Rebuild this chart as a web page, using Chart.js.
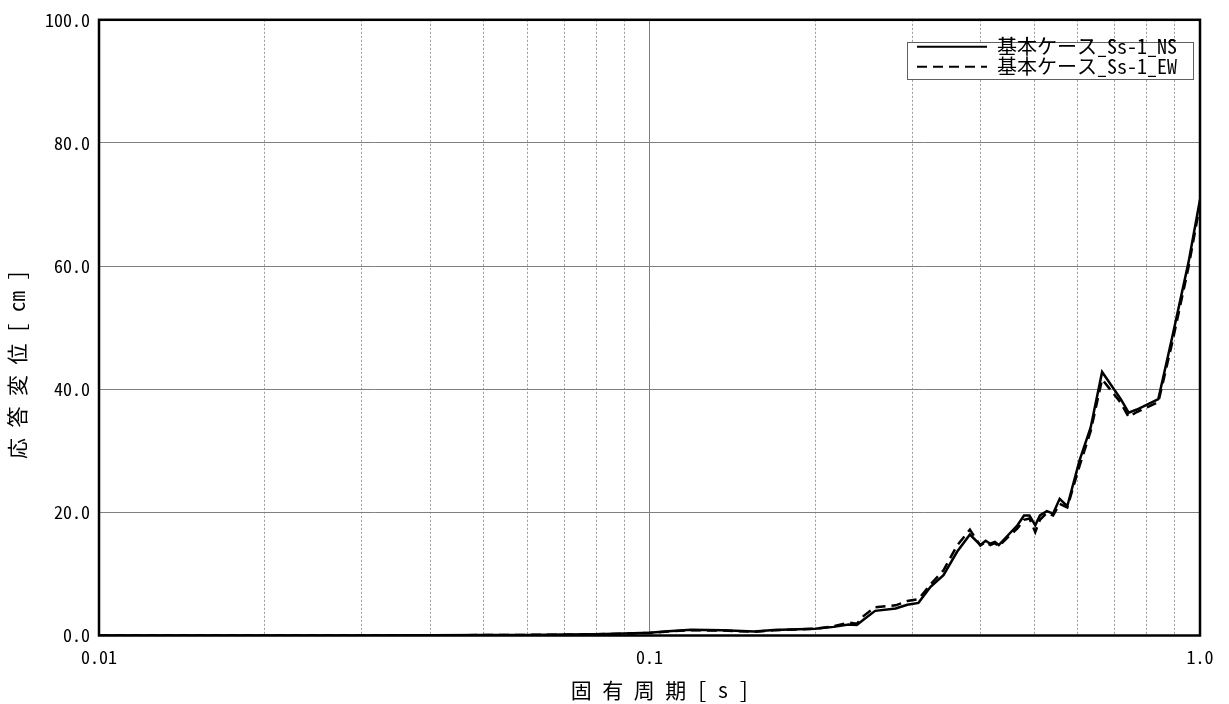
<!DOCTYPE html>
<html><head><meta charset="utf-8">
<script src="https://cdn.jsdelivr.net/npm/chart.js@4/dist/chart.umd.min.js"></script>
<style>html,body{margin:0;padding:0;background:#fff;overflow:hidden}</style>
</head><body>
<canvas id="c" width="1229" height="704"></canvas>
<script>
// ---- data ----
const periods = [0.01,0.02,0.03,0.04,0.05,0.06,0.07,0.08,0.09,0.10,
  0.108,0.119,0.136,0.155,0.168,0.20,0.216,0.230,0.238,0.245,
  0.257,0.280,0.294,0.308,0.324,0.342,0.362,0.382,0.399,0.408,
  0.416,0.424,0.431,0.447,0.466,0.479,0.490,0.502,0.512,0.527,
  0.541,0.556,0.574,0.604,0.633,0.664,0.718,0.742,0.768,0.84,
  0.89,0.953,1.0];
const dispNS = [0,0.01,0.02,0.04,0.07,0.1,0.15,0.22,0.32,0.45,
  0.7,0.95,0.85,0.65,0.9,1.1,1.4,1.8,1.7,2.6,
  4.0,4.4,5.0,5.3,7.9,9.8,13.6,16.4,14.7,15.4,
  14.9,15.2,14.7,16.2,17.9,19.5,19.5,17.9,19.5,20.2,
  19.8,22.2,21.0,28.4,33.8,42.8,38.4,36.2,36.7,38.4,
  48.4,60.6,70.8];
const dispEW = [0,0.01,0.02,0.04,0.07,0.1,0.14,0.2,0.3,0.42,
  0.65,0.85,0.8,0.6,0.85,1.1,1.5,2.1,1.9,3.2,
  4.6,4.9,5.6,5.9,8.3,10.6,14.6,17.2,14.6,15.2,
  14.7,15.0,14.5,15.9,17.4,18.8,19.0,16.8,18.8,19.9,
  19.5,21.4,20.8,27.5,33.2,41.6,37.8,35.5,36.3,37.9,
  47.5,59.8,70.0];
const seriesNames = ['基本ケース_Ss-1_NS','基本ケース_Ss-1_EW'];
const xGridValues = [0.01,0.02,0.03,0.04,0.05,0.06,0.07,0.08,0.09,
  0.1,0.2,0.3,0.4,0.5,0.6,0.7,0.8,0.9,1.0];
const xLabelValues = [0.01,0.1,1.0];
const xLabelTexts = ['0.01','0.1','1.0'];
const yTickLabels = ['0.0','20.0','40.0','60.0','80.0','100.0'];
const xTitle = '　固 有 周 期 [ s ]';
const yTitle = '応 答 変 位 [ cm ]　　　 ';

const FONT = "'Noto Sans Mono CJK JP','Noto Sans CJK JP','DejaVu Sans Mono',monospace";
const dashes = [[], [10, 6]];

function isLabelValue(v){ return xLabelValues.some(l => Math.abs(l - v) < 1e-9); }

const framePlugin = {
  id: 'frame',
  beforeDraw(chart){
    const lg = chart.legend, ca = chart.chartArea;
    lg.left = ca.right - 13 - lg.width;
    lg.right = lg.left + lg.width;
    lg.top = ca.top + 17;
  },
  afterDraw(chart){
    const ctx = chart.ctx, ca = chart.chartArea, lg = chart.legend;
    const n = lg.legendItems.length;
    const bx = lg.left - 10, by = ca.top + 22.5;
    const bw = (ca.right - 7) - bx, bh = n * 20 - 3.5;
    ctx.save();
    ctx.fillStyle = '#fff';
    ctx.fillRect(bx, by, bw, bh);
    ctx.strokeStyle = '#606060';
    ctx.lineWidth = 1;
    ctx.strokeRect(Math.round(bx) + 0.5, Math.round(by) + 0.5, Math.round(bw), Math.round(bh));
    ctx.restore();
    lg.draw();
    ctx.save();
    ctx.strokeStyle = '#000';
    ctx.lineWidth = 2.5;
    ctx.strokeRect(ca.left, ca.top, ca.right - ca.left, ca.bottom - ca.top);
    ctx.restore();
  }
};

new Chart(document.getElementById('c'), {
  type: 'line',
  data: {
    datasets: [
      { label: seriesNames[0], data: periods.map((p, i) => ({x: p, y: dispNS[i]})),
        borderColor: '#000', backgroundColor: '#000', borderWidth: 2.5, borderDash: dashes[0],
        pointRadius: 0, tension: 0, fill: false },
      { label: seriesNames[1], data: periods.map((p, i) => ({x: p, y: dispEW[i]})),
        borderColor: '#000', backgroundColor: '#000', borderWidth: 2.5, borderDash: dashes[1],
        pointRadius: 0, tension: 0, fill: false }
    ]
  },
  options: {
    responsive: false,
    animation: false,
    devicePixelRatio: 1,
    layout: { padding: { left: 0, top: 18, right: 29, bottom: 0 } },
    plugins: {
      tooltip: { enabled: false },
      legend: {
        position: 'chartArea',
        align: 'start',
        labels: {
          usePointStyle: true, pointStyle: 'line', pointStyleWidth: 70,
          boxHeight: 20, padding: 0, color: '#000',
          font: { family: FONT, size: 20 },
          generateLabels: (chart) => {
            const items = Chart.defaults.plugins.legend.labels.generateLabels(chart);
            items.forEach((it) => { it.lineDash = dashes[it.datasetIndex]; it.lineWidth = 2; it.strokeStyle = '#000'; });
            return items;
          }
        }
      }
    },
    scales: {
      x: {
        type: 'logarithmic', min: 0.01, max: 1.0,
        afterBuildTicks: (scale) => { scale.ticks = xGridValues.map(v => ({ value: v })); },
        afterFit: (scale) => { scale.height = 68.5; },
        ticks: {
          autoSkip: false, maxRotation: 0, minRotation: 0, padding: 11, color: '#000',
          font: { family: FONT, size: 18 },
          callback: (v) => { const i = xLabelValues.findIndex(l => Math.abs(l - v) < 1e-9); return i >= 0 ? xLabelTexts[i] : ''; }
        },
        grid: {
          drawTicks: false, lineWidth: 1,
          color: (c) => (c.tick && isLabelValue(c.tick.value)) ? '#808080' : '#9a9a9a'
        },
        border: {
          display: false,
          dash: (c) => (c.tick && !isLabelValue(c.tick.value)) ? [2, 2] : []
        },
        title: {
          display: true, text: xTitle, color: '#000',
          font: { family: FONT, size: 21 }, padding: { top: 0, bottom: 1 }
        }
      },
      y: {
        type: 'linear', min: 0, max: 100,
        afterFit: (scale) => { scale.width = 99; },
        ticks: {
          stepSize: 20, padding: 9, color: '#000',
          font: { family: FONT, size: 18 },
          callback: (v, i) => yTickLabels[i]
        },
        grid: { drawTicks: false, color: '#808080', lineWidth: 1 },
        border: { display: false },
        title: {
          display: true, text: yTitle, color: '#000',
          font: { family: FONT, size: 21 }, padding: { top: 4, bottom: 0 }
        }
      }
    }
  },
  plugins: [framePlugin]
});
</script>
</body></html>
